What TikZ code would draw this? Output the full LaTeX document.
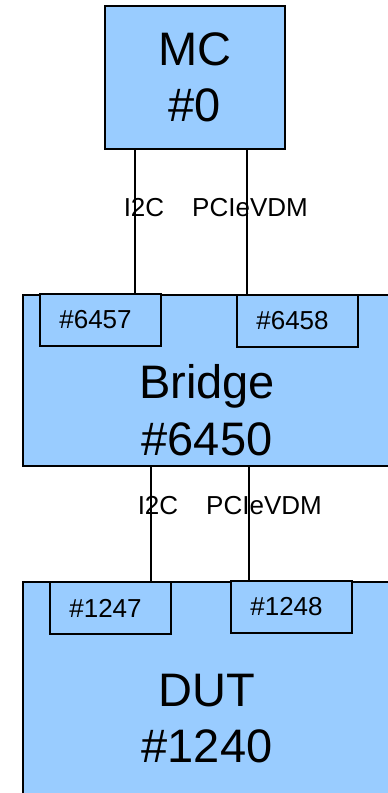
\documentclass[tikz,border=0pt]{standalone}
\usepackage{fontspec}
\setmainfont{Liberation Sans}
\usetikzlibrary{positioning}
\definecolor{boxblue}{RGB}{153,204,255}

\begin{document}
\begin{tikzpicture}[
    x=1pt, y=-1pt,
    bigfont/.style={font=\fontsize{47}{56.5}\selectfont},
    unit/.style={rectangle, fill=boxblue, draw=black, line width=2pt, inner sep=0pt},
    port/.style={rectangle, fill=boxblue, draw=black, line width=1.6pt, minimum width=121pt, minimum height=52pt, inner sep=0pt, font=\fontsize{26}{30}\selectfont, execute at begin node={\hspace*{-10pt}}},
    bus/.style={line width=2pt},
    buslabel/.style={font=\fontsize{26}{30}\selectfont, inner sep=0pt},
  ]
  \clip (0,0) rectangle (388,793);

  % units
  \node[unit, bigfont, align=center, minimum width=180pt, minimum height=143pt] (mc) at (195,77.5) {MC\\\#0};
  \node[unit, minimum width=368pt, minimum height=171pt] (bridge) at (207,380.5) {};
  \node[bigfont, align=center] (bridgetxt) at (207,410) {Bridge\\\#6450};
  \node[unit, minimum width=368pt, minimum height=278pt] (dut) at (207,721) {};
  \node[bigfont, align=center] (duttxt) at (207,718.5) {DUT\\\#1240};

  % ports
  \node[port] (p6457) at (100.5,320) {\#6457};
  \node[port] (p6458) at (297.5,321) {\#6458};
  \node[port] (p1247) at (110.5,608) {\#1247};
  \node[port] (p1248) at (291.5,607) {\#1248};

  % buses
  \draw[bus] ([xshift=-60pt]mc.south) -- ([xshift=-60pt]mc.south |- p6457.north)
    node[buslabel, pos=0.4, xshift=9pt] {I2C};
  \draw[bus] ([xshift=52pt]mc.south) -- ([xshift=52pt]mc.south |- p6458.north)
    node[buslabel, pos=0.4, xshift=3pt] {PCIeVDM};
  \draw[bus] ([xshift=-56pt]bridge.south) -- ([xshift=-56pt]bridge.south |- p1247.north)
    node[buslabel, pos=0.34, xshift=7pt] {I2C};
  \draw[bus] ([xshift=42pt]bridge.south) -- ([xshift=42pt]bridge.south |- p1248.north)
    node[buslabel, pos=0.34, xshift=15pt] {PCIeVDM};
\end{tikzpicture}
\end{document}
